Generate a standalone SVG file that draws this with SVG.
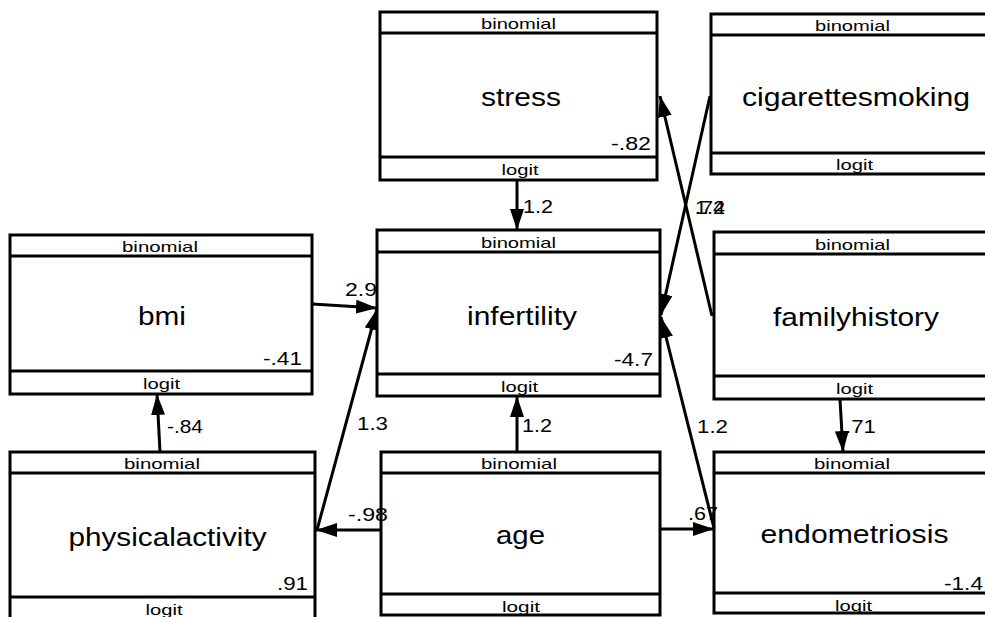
<svg xmlns="http://www.w3.org/2000/svg" width="985" height="617" viewBox="0 0 985 617">
<defs>
<marker id="arr" markerUnits="userSpaceOnUse" markerWidth="22" markerHeight="14" refX="21" refY="7" orient="auto">
<path d="M0,0 L21,7 L0,14 z" fill="#000"/>
</marker>
<style>
.box{fill:#fff;stroke:#000;stroke-width:3}
.div{stroke:#000;stroke-width:3}
text{font-family:"Liberation Sans",Arial,sans-serif;fill:#000}
.sm{font-size:15px;text-anchor:middle}
.big{font-size:26px;text-anchor:middle}
.num{font-size:19px;text-anchor:end}
.el{font-size:19px}
.edge{stroke:#000;stroke-width:3;fill:none;marker-end:url(#arr)}
</style>
</defs>
<rect width="985" height="617" fill="#fff"/>
<g id="stress">
<rect class="box" x="380" y="12" width="277" height="168"/>
<line class="div" x1="380" y1="33" x2="657" y2="33"/>
<line class="div" x1="380" y1="157" x2="657" y2="157"/>
<text class="sm" x="518.5" y="29" textLength="75" lengthAdjust="spacingAndGlyphs">binomial</text>
<text class="big" x="521" y="106" textLength="80" lengthAdjust="spacingAndGlyphs">stress</text>
<text class="num" x="651" y="150" textLength="40" lengthAdjust="spacingAndGlyphs">-.82</text>
<text class="sm" x="520" y="175" textLength="37" lengthAdjust="spacingAndGlyphs">logit</text>
</g>
<g id="cigarettesmoking">
<rect class="box" x="711" y="14" width="285" height="160"/>
<line class="div" x1="711" y1="35" x2="996" y2="35"/>
<line class="div" x1="711" y1="153" x2="996" y2="153"/>
<text class="sm" x="852.5" y="31" textLength="75" lengthAdjust="spacingAndGlyphs">binomial</text>
<text class="big" x="856" y="106" textLength="228" lengthAdjust="spacingAndGlyphs">cigarettesmoking</text>
<text class="sm" x="854.5" y="170" textLength="37" lengthAdjust="spacingAndGlyphs">logit</text>
</g>
<g id="bmi">
<rect class="box" x="10" y="235" width="302" height="159"/>
<line class="div" x1="10" y1="256" x2="312" y2="256"/>
<line class="div" x1="10" y1="371" x2="312" y2="371"/>
<text class="sm" x="160" y="252" textLength="76" lengthAdjust="spacingAndGlyphs">binomial</text>
<text class="big" x="162" y="325" textLength="48" lengthAdjust="spacingAndGlyphs">bmi</text>
<text class="num" x="302" y="365" textLength="39" lengthAdjust="spacingAndGlyphs">-.41</text>
<text class="sm" x="161.5" y="389" textLength="37" lengthAdjust="spacingAndGlyphs">logit</text>
</g>
<g id="infertility">
<rect class="box" x="377" y="230" width="283" height="166"/>
<line class="div" x1="377" y1="252" x2="660" y2="252"/>
<line class="div" x1="377" y1="374" x2="660" y2="374"/>
<text class="sm" x="518.5" y="248" textLength="75" lengthAdjust="spacingAndGlyphs">binomial</text>
<text class="big" x="522" y="325" textLength="110" lengthAdjust="spacingAndGlyphs">infertility</text>
<text class="num" x="653" y="366" textLength="39" lengthAdjust="spacingAndGlyphs">-4.7</text>
<text class="sm" x="519.5" y="392" textLength="37" lengthAdjust="spacingAndGlyphs">logit</text>
</g>
<g id="familyhistory">
<rect class="box" x="714" y="232" width="282" height="167"/>
<line class="div" x1="714" y1="254" x2="996" y2="254"/>
<line class="div" x1="714" y1="376" x2="996" y2="376"/>
<text class="sm" x="852.5" y="250" textLength="75" lengthAdjust="spacingAndGlyphs">binomial</text>
<text class="big" x="856" y="326" textLength="166" lengthAdjust="spacingAndGlyphs">familyhistory</text>
<text class="sm" x="854.5" y="394" textLength="37" lengthAdjust="spacingAndGlyphs">logit</text>
</g>
<g id="physicalactivity">
<rect class="box" x="10" y="452" width="305" height="175"/>
<line class="div" x1="10" y1="473" x2="315" y2="473"/>
<line class="div" x1="10" y1="597" x2="315" y2="597"/>
<text class="sm" x="162" y="469" textLength="76" lengthAdjust="spacingAndGlyphs">binomial</text>
<text class="big" x="167.5" y="546" textLength="198" lengthAdjust="spacingAndGlyphs">physicalactivity</text>
<text class="num" x="308" y="590" textLength="31" lengthAdjust="spacingAndGlyphs">.91</text>
<text class="sm" x="164" y="615" textLength="37" lengthAdjust="spacingAndGlyphs">logit</text>
</g>
<g id="age">
<rect class="box" x="381" y="452" width="279" height="163"/>
<line class="div" x1="381" y1="473" x2="660" y2="473"/>
<line class="div" x1="381" y1="594" x2="660" y2="594"/>
<text class="sm" x="519" y="469" textLength="76" lengthAdjust="spacingAndGlyphs">binomial</text>
<text class="big" x="520.5" y="544" textLength="49" lengthAdjust="spacingAndGlyphs">age</text>
<text class="sm" x="521" y="612" textLength="38" lengthAdjust="spacingAndGlyphs">logit</text>
</g>
<g id="endometriosis">
<rect class="box" x="714" y="452" width="282" height="161"/>
<line class="div" x1="714" y1="473" x2="996" y2="473"/>
<line class="div" x1="714" y1="593" x2="996" y2="593"/>
<text class="sm" x="852" y="469" textLength="76" lengthAdjust="spacingAndGlyphs">binomial</text>
<text class="big" x="854.5" y="543" textLength="188" lengthAdjust="spacingAndGlyphs">endometriosis</text>
<text class="num" x="983" y="590" textLength="39" lengthAdjust="spacingAndGlyphs">-1.4</text>
<text class="sm" x="853.5" y="611" textLength="37" lengthAdjust="spacingAndGlyphs">logit</text>
</g>
<g id="connectors">
<path class="edge" d="M517,180 L517,230"/>
<path class="edge" d="M312,304 L377,308"/>
<path class="edge" d="M160,452 L157,394"/>
<path class="edge" d="M317,530 L377,309"/>
<path class="edge" d="M381,530 L316,530"/>
<path class="edge" d="M517,452 L517,396"/>
<path class="edge" d="M660,529 L714,529"/>
<path class="edge" d="M714,528 L661,317"/>
<path class="edge" d="M712,316 L660,96"/>
<path class="edge" d="M710,96 L661,315"/>
<path class="edge" d="M840,399 L843,452"/>
<text class="el" x="523" y="213" textLength="30" lengthAdjust="spacingAndGlyphs">1.2</text>
<text class="el" x="345" y="296" textLength="32" lengthAdjust="spacingAndGlyphs">2.9</text>
<text class="el" x="167" y="433" textLength="36" lengthAdjust="spacingAndGlyphs">-.84</text>
<text class="el" x="357" y="430" textLength="31" lengthAdjust="spacingAndGlyphs">1.3</text>
<text class="el" x="522" y="432" textLength="30" lengthAdjust="spacingAndGlyphs">1.2</text>
<text class="el" x="697" y="433" textLength="31" lengthAdjust="spacingAndGlyphs">1.2</text>
<text class="el" x="845" y="433" textLength="31" lengthAdjust="spacingAndGlyphs">.71</text>
<text class="el" x="348" y="521" textLength="40" lengthAdjust="spacingAndGlyphs">-.98</text>
<text class="el" x="688" y="520" textLength="30" lengthAdjust="spacingAndGlyphs">.67</text>
<text class="el" x="695" y="214" textLength="30" lengthAdjust="spacingAndGlyphs">.74</text>
<text class="el" x="695" y="214" textLength="30" lengthAdjust="spacingAndGlyphs">1.2</text>
</g>
</svg>
